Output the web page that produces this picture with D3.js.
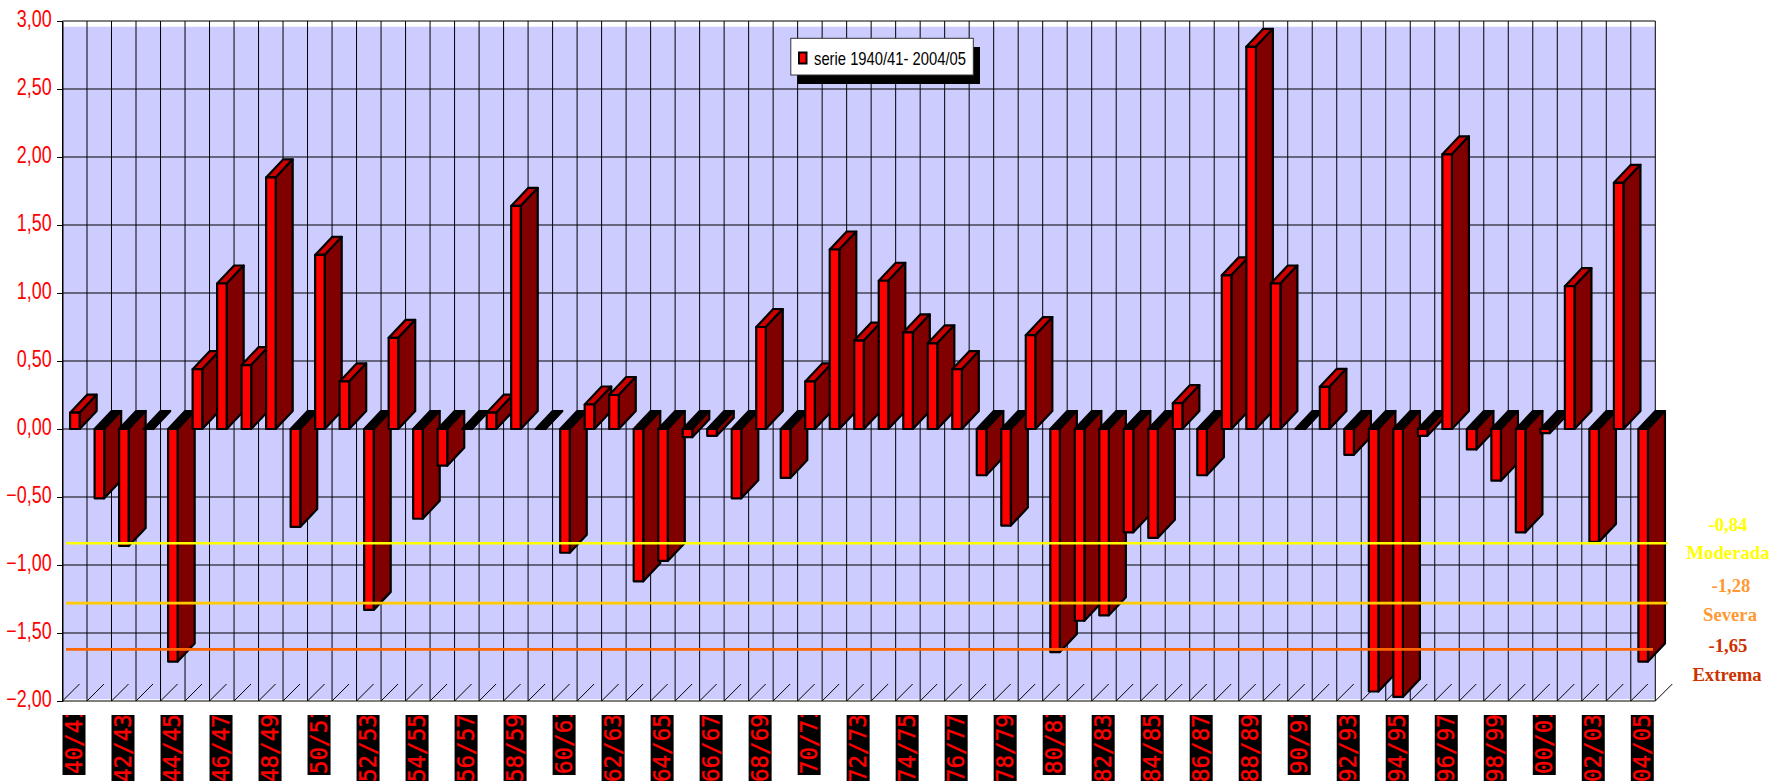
<!DOCTYPE html>
<html>
<head>
<meta charset="utf-8">
<script src="https://cdn.jsdelivr.net/npm/d3@7"></script>
<style>
html, body { margin: 0; background: #fff; }
svg { display: block; }
</style>
</head>
<body>
<div class="chart"></div>
<script>
const WIDTH = 1788;
const HEIGHT = 781;
const LEFT = 62.5;
const RIGHT = 1655.3;
const TOP = 21;
const BOTTOM = 701;
const DEPTH_X = 17;
const DEPTH_Y = 18;

const seasons = [
    '40/41', '41/42', '42/43', '43/44', '44/45', '45/46', '46/47', '47/48', '48/49', '49/50',
    '50/51', '51/52', '52/53', '53/54', '54/55', '55/56', '56/57', '57/58', '58/59', '59/60',
    '60/61', '61/62', '62/63', '63/64', '64/65', '65/66', '66/67', '67/68', '68/69', '69/70',
    '70/71', '71/72', '72/73', '73/74', '74/75', '75/76', '76/77', '77/78', '78/79', '79/80',
    '80/81', '81/82', '82/83', '83/84', '84/85', '85/86', '86/87', '87/88', '88/89', '89/90',
    '90/91', '91/92', '92/93', '93/94', '94/95', '95/96', '96/97', '97/98', '98/99', '99/00',
    '00/01', '01/02', '02/03', '03/04', '04/05'
];

const values = [
    0.12, -0.51, -0.86, 0, -1.71, 0.44, 1.07, 0.47, 1.85, -0.72,
    1.28, 0.35, -1.33, 0.67, -0.66, -0.27, 0, 0.12, 1.64, 0,
    -0.91, 0.18, 0.25, -1.12, -0.97, -0.06, -0.05, -0.51, 0.75, -0.36,
    0.35, 1.32, 0.65, 1.09, 0.71, 0.63, 0.44, -0.34, -0.71, 0.69,
    -1.64, -1.41, -1.37, -0.76, -0.80, 0.19, -0.34, 1.13, 2.81, 1.07,
    0, 0.31, -0.19, -1.93, -1.97, -0.05, 2.02, -0.15, -0.38, -0.76,
    -0.03, 1.05, -0.83, 1.81, -1.71
];

const yTicks = [3, 2.5, 2, 1.5, 1, 0.5, 0, -0.5, -1, -1.5, -2];
const legendLabel = 'serie 1940/41- 2004/05';

const thresholdValues = [-0.84, -1.28, -1.62];
const thresholdNumbers = ['-0,84', '-1,28', '-1,65'];
const thresholdNames = ['Moderada', 'Severa', 'Extrema'];

const thresholdStyles = [
    {line: '#ffff00', text: '#ffff00', end: 1667.7, numX: 1728, numY: 531, nameX: 1728, nameY: 559},
    {line: '#ffcc00', text: '#ff9933', end: 1667.7, numX: 1731, numY: 592, nameX: 1730, nameY: 621},
    {line: '#ff6600', text: '#cc3300', end: 1653, numX: 1728, numY: 652, nameX: 1727, nameY: 681}
];

var x = d3.scaleBand().domain(seasons).range([LEFT, RIGHT]);
var y = d3.scaleLinear().domain([-2, 3]).range([BOTTOM, TOP]);

var svg = d3.select('.chart').append('svg')
    .attr('width', WIDTH)
    .attr('height', HEIGHT);

function polygon(points) {
    return d3.line()(points) + 'Z';
}

function drawBackground() {
    svg.append('rect')
        .attr('x', LEFT).attr('y', 26.7)
        .attr('width', RIGHT - LEFT).attr('height', 672.5)
        .attr('fill', '#ccccff');
}

function drawGrid() {
    var edges = seasons.map(function (s) { return x(s); }).concat([RIGHT]);
    var g = svg.append('g').attr('stroke', '#000').attr('stroke-width', 1);
    g.selectAll('line.v').data(edges).enter().append('line')
        .attr('class', 'v')
        .attr('x1', function (d) { return d; }).attr('x2', function (d) { return d; })
        .attr('y1', TOP).attr('y2', BOTTOM);
    g.selectAll('line.s').data(edges).enter().append('line')
        .attr('class', 's')
        .attr('x1', function (d) { return d; }).attr('x2', function (d) { return d + DEPTH_X; })
        .attr('y1', BOTTOM).attr('y2', BOTTOM - DEPTH_X);
    g.selectAll('line.h').data(yTicks).enter().append('line')
        .attr('class', 'h')
        .attr('x1', LEFT).attr('x2', RIGHT)
        .attr('y1', function (d) { return y(d); }).attr('y2', function (d) { return y(d); });
}

function drawYAxis() {
    var format = d3.formatLocale({decimal: ',', thousands: '.', grouping: [3], currency: ['', '']}).format('.2f');
    var axis = d3.axisLeft(y).tickValues(yTicks).tickSize(5.5).tickFormat(format);
    var g = svg.append('g').attr('transform', 'translate(' + LEFT + ',0)').call(axis);
    g.select('.domain').attr('stroke', '#000');
    g.selectAll('.tick line').attr('stroke', '#000');
    g.selectAll('.tick text')
        .attr('font-family', '"Liberation Sans", Arial, sans-serif')
        .attr('font-size', 23)
        .attr('fill', '#ff0000')
        .attr('x', -10.8 / 0.78)
        .attr('dy', '5.5px')
        .attr('transform', 'scale(0.78,1)');
}

function drawBars() {
    var barX = function (s) { return x(s) + x.bandwidth() * 0.31; };
    var barW = x.bandwidth() * 0.39;
    var y0 = y(0);
    var g = svg.append('g').attr('stroke', '#000').attr('stroke-width', 2.2).attr('stroke-linejoin', 'round');

    var bars = g.selectAll('g').data(seasons).enter().append('g');

    bars.append('path')
        .attr('fill', function (s, i) { return values[i] > 0 ? '#cc0000' : '#000'; })
        .attr('d', function (s, i) {
            var left = barX(s);
            var top = Math.min(y0, y(values[i]));
            return polygon([[left, top], [left + barW, top], [left + barW + DEPTH_X, top - DEPTH_Y], [left + DEPTH_X, top - DEPTH_Y]]);
        });

    bars.append('path')
        .attr('fill', '#800000')
        .attr('d', function (s, i) {
            var right = barX(s) + barW;
            var yv = y(values[i]);
            return polygon([[right, y0], [right + DEPTH_X, y0 - DEPTH_Y], [right + DEPTH_X, yv - DEPTH_Y], [right, yv]]);
        });

    bars.append('rect')
        .attr('fill', '#ff0000')
        .attr('x', barX)
        .attr('width', barW)
        .attr('y', function (s, i) { return Math.min(y0, y(values[i])); })
        .attr('height', function (s, i) { return Math.abs(y(values[i]) - y0); });
}

function drawThresholds() {
    var g = svg.append('g');
    g.selectAll('line').data(thresholdValues).enter().append('line')
        .attr('x1', 66)
        .attr('x2', function (d, i) { return thresholdStyles[i].end; })
        .attr('y1', function (d) { return y(d); })
        .attr('y2', function (d) { return y(d); })
        .attr('stroke', function (d, i) { return thresholdStyles[i].line; })
        .attr('stroke-width', 2.7);

    var text = svg.append('g')
        .attr('font-family', '"Liberation Serif", "Times New Roman", serif')
        .attr('font-weight', 'bold')
        .attr('font-size', 18.7)
        .attr('text-anchor', 'middle');
    text.selectAll('text.num').data(thresholdNumbers).enter().append('text')
        .attr('class', 'num')
        .text(function (d) { return d; })
        .attr('x', function (d, i) { return thresholdStyles[i].numX; })
        .attr('y', function (d, i) { return thresholdStyles[i].numY; })
        .attr('fill', function (d, i) { return thresholdStyles[i].text; });
    text.selectAll('text.name').data(thresholdNames).enter().append('text')
        .attr('class', 'name')
        .text(function (d) { return d; })
        .attr('x', function (d, i) { return thresholdStyles[i].nameX; })
        .attr('y', function (d, i) { return thresholdStyles[i].nameY; })
        .attr('fill', function (d, i) { return thresholdStyles[i].text; });
}

function drawXLabels() {
    var shown = seasons.filter(function (s, i) { return i % 2 === 0; });
    var clip = svg.append('clipPath').attr('id', 'labelClip');
    clip.append('rect').attr('x', 0).attr('y', 715).attr('width', WIDTH).attr('height', 66);

    var g = svg.append('g').attr('clip-path', 'url(#labelClip)');
    var short = function (s) { return s.charAt(4) === '1'; };
    var labels = g.selectAll('g').data(shown).enter().append('g')
        .attr('transform', function (s) { return 'translate(' + x(s) + ',0)'; });

    labels.append('rect')
        .attr('x', 0).attr('y', 715)
        .attr('width', 23)
        .attr('height', function (s) { return short(s) ? 60 : 66; })
        .attr('fill', '#000');

    labels.append('text')
        .text(function (s) { return s; })
        .attr('transform', function (s) { return 'translate(19,' + (short(s) ? 774 : 782) + ') rotate(-90)'; })
        .attr('font-family', '"DejaVu Sans Mono", monospace')
        .attr('font-size', 22.5)
        .attr('stroke', '#ff0000')
        .attr('stroke-width', 0.4)
        .attr('fill', '#ff0000');
}

function drawLegend() {
    var g = svg.append('g');
    g.append('rect').attr('x', 797.5).attr('y', 47).attr('width', 182.5).attr('height', 37).attr('fill', '#000');
    g.append('rect').attr('x', 790.8).attr('y', 38.3).attr('width', 182.5).attr('height', 36.7)
        .attr('fill', '#fff').attr('stroke', '#333').attr('stroke-width', 1);
    g.append('rect').attr('x', 799).attr('y', 52.5).attr('width', 7.5).attr('height', 11)
        .attr('fill', '#ff0000').attr('stroke', '#000').attr('stroke-width', 2);
    g.append('text')
        .text(legendLabel)
        .attr('x', 814).attr('y', 65)
        .attr('font-family', '"Liberation Sans", Arial, sans-serif')
        .attr('font-size', 18.5)
        .attr('textLength', 152)
        .attr('lengthAdjust', 'spacingAndGlyphs')
        .attr('fill', '#000');
}

drawBackground();
drawGrid();
drawYAxis();
drawBars();
drawThresholds();
drawXLabels();
drawLegend();
</script>
</body>
</html>
